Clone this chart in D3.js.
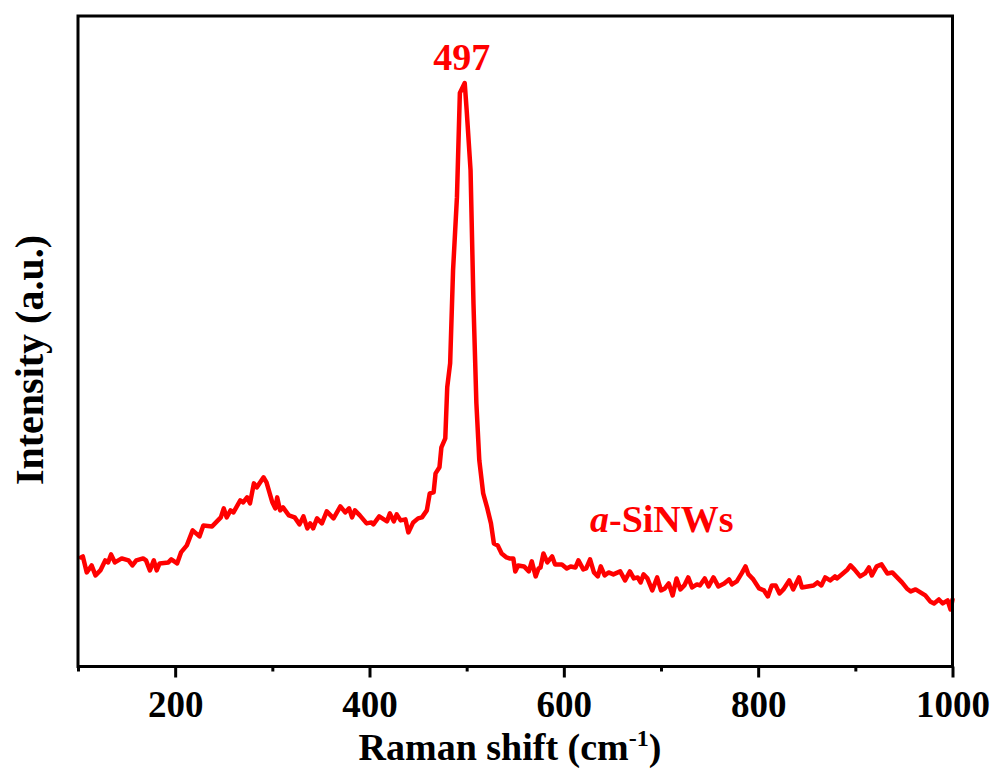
<!DOCTYPE html>
<html>
<head>
<meta charset="utf-8">
<script src="https://cdn.jsdelivr.net/npm/d3@7"></script>
<style>
  body { margin: 0; background: #fff; }
  text { font-family: "Liberation Serif", "Times New Roman", serif; font-weight: bold; }
</style>
</head>
<body>
<div id="chart-area"></div>
<script>
/*
*    raman spectrum, a-SiNWs
*/

// Raman shift (cm-1)
var shift = [103,105,109,114,118,123,128,131,134,138,145,152,156,160,167,170,174,178,181,184,
    193,196,202,206,212,218,225,229,238,243,247,250,253,257,260,267,270,274,277,281,
    284,291,294,300,303,305,308,311,317,323,328,332,336,339,342,346,351,356,363,370,
    375,379,382,385,390,397,402,404,410,418,421,425,428,432,437,440,445,450,454,459,
    462,466,468,472,474,478,480,483,486,490,493,498,500,504,507,510,513,517,521,525,
    528,532,536,541,544,548,550,553,559,564,567,571,574,576,579,583,588,591,598,603,
    607,612,615,620,623,627,631,635,638,642,646,651,658,663,668,672,676,679,682,686,
    691,696,700,704,708,712,716,720,724,728,732,737,740,745,749,754,759,765,770,773,
    778,783,787,790,795,801,806,810,814,818,822,826,832,836,842,845,851,857,861,865,
    869,874,879,881,886,892,895,899,905,910,914,917,922,927,933,938,943,948,953,957,
    962,967,972,977,981,986,990,995,998,1000];

// intensity (a.u.)
var intensity = [109,110,94,101,91,96,106,104,112,104,108,106,101,106,108,106,96,106,96,103,
    104,107,103,114,121,136,130,141,140,145,149,158,149,156,154,166,164,169,163,183,
    179,189,184,164,158,169,156,159,151,149,142,150,138,143,138,148,143,155,148,160,
    154,158,149,156,151,143,144,142,150,145,153,145,152,146,147,134,144,148,149,156,
    173,174,193,199,219,228,279,303,396,469,573,583,556,496,363,263,206,173,159,143,
    123,121,113,109,108,108,95,101,100,95,105,90,98,99,113,104,110,102,102,98,
    100,99,106,97,98,107,94,90,100,91,94,92,95,86,95,88,89,84,92,88,
    76,89,76,78,83,71,88,77,81,89,79,82,81,88,80,89,80,83,87,82,
    85,93,100,92,87,78,76,70,81,81,73,77,86,77,89,79,80,81,84,81,
    89,86,90,88,92,97,101,97,90,93,99,91,100,102,93,94,89,84,78,75,
    77,74,71,65,63,67,63,66,57,67];

var majorTicks = [200, 400, 600, 800, 1000];
var minorTicks = [100, 300, 500, 700, 900];

var peakShift = 497;
var sampleName = "-SiNWs";

var data = shift.map((d, i) => ({x: d, y: intensity[i]}));

var svg = d3.select("#chart-area").append("svg")
    .attr("width", 997)
    .attr("height", 774);

var plotLeft = 78, plotRight = 952.5, plotTop = 16, plotBottom = 666.5;

var x = d3.scaleLinear()
    .domain([100, 1000])
    .range([plotLeft, plotRight]);

var y = d3.scaleLinear()
    .domain([0, 650])
    .range([plotBottom, plotTop]);

// curve
var line = d3.line()
    .x((d) => x(d.x))
    .y((d) => y(d.y));

svg.append("path")
    .datum(data)
    .attr("d", line)
    .attr("fill", "none")
    .attr("stroke", "#ff0000")
    .attr("stroke-width", 4.5)
    .attr("stroke-linejoin", "round")
    .attr("stroke-linecap", "round");

// frame
svg.append("rect")
    .attr("x", plotLeft)
    .attr("y", plotTop)
    .attr("width", plotRight - plotLeft)
    .attr("height", plotBottom - plotTop)
    .attr("fill", "none")
    .attr("stroke", "#000")
    .attr("stroke-width", 3);

// bottom axis, major + minor ticks
var xAxis = svg.append("g")
    .attr("transform", "translate(0," + plotBottom + ")")
    .call(d3.axisBottom(x).tickValues(majorTicks).tickSize(11).tickSizeOuter(0).tickFormat(d3.format("d")));

xAxis.select(".domain").remove();
xAxis.selectAll(".tick line").attr("stroke", "#000").attr("stroke-width", 3);
xAxis.selectAll(".tick text")
    .attr("y", 50)
    .attr("dy", 0)
    .attr("fill", "#000")
    .style("font-size", "37px")
    .style("font-family", "'Liberation Serif', 'Times New Roman', serif")
    .style("font-weight", "bold");

svg.append("g")
    .attr("transform", "translate(0," + plotBottom + ")")
    .call(d3.axisBottom(x).tickValues(minorTicks).tickSize(5).tickSizeOuter(0).tickFormat(""))
    .call((g) => g.select(".domain").remove())
    .selectAll(".tick line").attr("stroke", "#000").attr("stroke-width", 3);

// axis titles
var xTitle = svg.append("text")
    .attr("x", 510)
    .attr("y", 760)
    .attr("text-anchor", "middle")
    .style("font-size", "38px")
    .text("Raman shift (cm");
xTitle.append("tspan")
    .attr("dy", -14)
    .style("font-size", "24px")
    .text("-1");
xTitle.append("tspan")
    .attr("dy", 14)
    .text(")");

svg.append("text")
    .attr("transform", "translate(43,360) rotate(-90)")
    .attr("text-anchor", "middle")
    .style("font-size", "40px")
    .text("Intensity (a.u.)");

// annotations
svg.append("text")
    .attr("x", x(peakShift) - 2)
    .attr("y", 70)
    .attr("text-anchor", "middle")
    .attr("fill", "#ff0000")
    .style("font-size", "38px")
    .text(peakShift);

var label = svg.append("text")
    .attr("x", 590)
    .attr("y", 532)
    .attr("fill", "#ff0000")
    .style("font-size", "38px");
label.append("tspan")
    .style("font-style", "italic")
    .text("a");
label.append("tspan")
    .text(sampleName);
</script>
</body>
</html>
